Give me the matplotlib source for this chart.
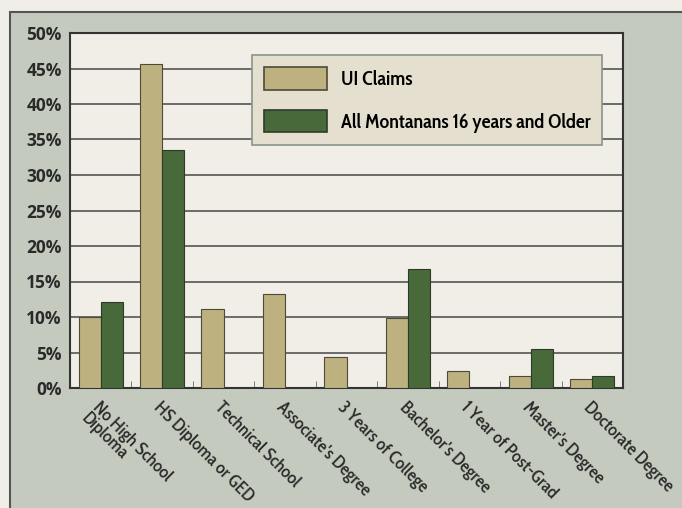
import matplotlib.pyplot as plt
import numpy as np
from matplotlib.patches import Rectangle

plt.rcParams['font.family'] = ['Cabin Condensed', 'DejaVu Sans']

categories = ['No High School\nDiploma', 'HS Diploma or GED', 'Technical School',
              "Associate's Degree", '3 Years of College', "Bachelor's Degree",
              '1 Year of Post-Grad', "Master's Degree", 'Doctorate Degree']
ui_claims = [10.0, 45.7, 11.1, 13.3, 4.3, 9.8, 2.4, 1.7, 1.3]
montanans = [12.1, 33.5, 0, 0, 0, 16.8, 0, 5.5, 1.7]
series_names = ['UI Claims', 'All Montanans 16 years and Older']

tan = '#bdb17f'
green = '#48693a'

fig = plt.figure(figsize=(6.82, 5.08), dpi=100)
fig.patch.set_facecolor('#f1eee7')

# grey-green panel behind the chart
panel = Rectangle((10/682, -0.01), 1.0, 1 - 12/508 + 0.01, transform=fig.transFigure,
                  facecolor='#c4cbbe', edgecolor='#555555', linewidth=1.5, zorder=-1)
fig.patches.append(panel)

ax = fig.add_axes([70/682, 120/508, 553/682, 355/508])
ax.set_facecolor('#f1eee7')

x = np.arange(len(categories))
w = 0.36
ax.bar(x - w/2, ui_claims, w, color=tan, edgecolor='#4d4a3a', linewidth=0.8,
       label=series_names[0], zorder=3)
ax.bar(x + w/2, montanans, w, color=green, edgecolor='#2f3b2a', linewidth=0.8,
       label=series_names[1], zorder=3)

ax.set_xlim(-0.5, len(categories) - 0.5)
ax.set_ylim(0, 50)
ax.set_yticks(range(0, 55, 5))
ax.set_yticklabels([f'{v}%' for v in range(0, 55, 5)], fontsize=12.5, fontweight='bold',
                   family=['Open Sans', 'DejaVu Sans'], color='#2a2a2a')
ax.yaxis.grid(True, color='#555555', linewidth=1.2, zorder=0)
ax.tick_params(axis='y', length=0, pad=6)

# small ticks between the categories
ax.set_xticks(x[:-1] + 0.5, minor=True)
ax.tick_params(axis='x', which='minor', direction='in', length=5, color='#666666')
ax.set_xticks(x)
ax.set_xticklabels(categories, rotation=-45, ha='left', va='top', rotation_mode='anchor',
                   fontsize=13, fontweight=500, color='#2a2a2a', linespacing=0.85)
ax.tick_params(axis='x', which='major', length=0, pad=8)

for s in ax.spines.values():
    s.set_color('#333333')
    s.set_linewidth(1.5)

leg = ax.legend(loc='upper left', bbox_to_anchor=(182/553, 1 - 22/355), frameon=True,
                prop={'weight': 600, 'size': 14.5},
                handlelength=3.1, handleheight=1.34, labelspacing=0.97,
                borderpad=0.6, handletextpad=0.7, borderaxespad=0, fancybox=False)
leg.get_frame().set_facecolor('#e4dfcf')
leg.get_frame().set_edgecolor('#8a9585')
leg.get_frame().set_linewidth(1.2)
leg.get_frame().set_alpha(1)
leg.set_zorder(5)
for p in leg.get_patches():
    p.set_linewidth(1.2)

plt.savefig('out.png', dpi=100, facecolor=fig.get_facecolor())
